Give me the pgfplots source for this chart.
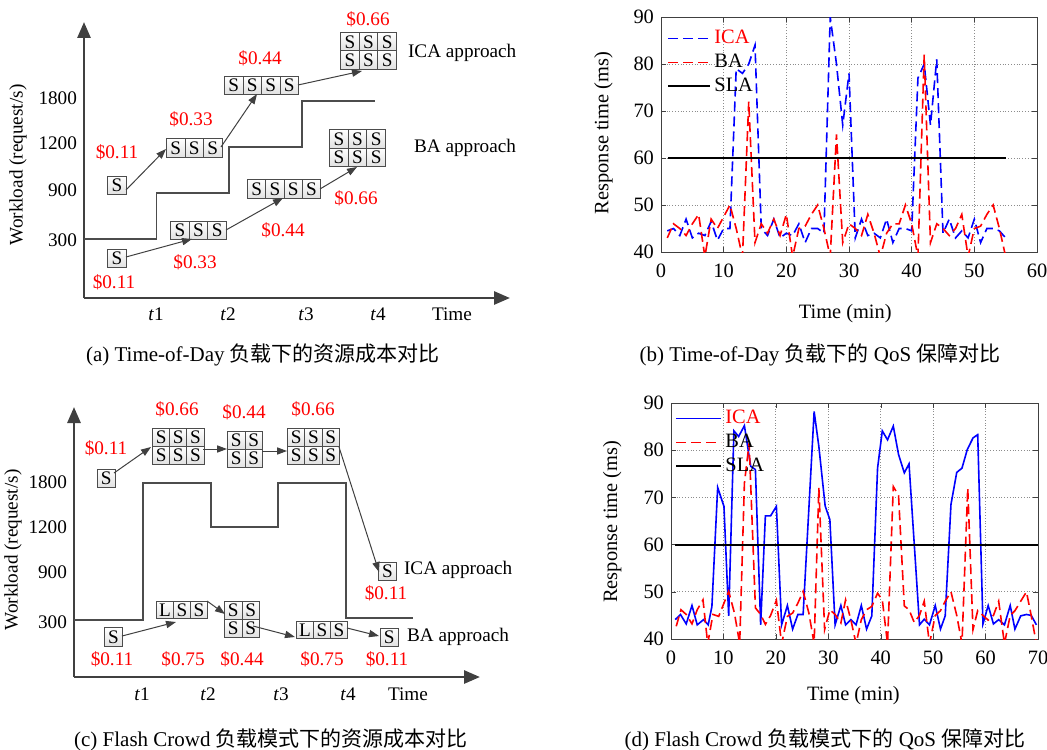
\documentclass[border=0pt]{standalone}
\usepackage{fontspec}
\setmainfont{Liberation Serif}
\newfontfamily\cjk{Noto Sans CJK SC}
\usepackage{pgfplots}
\pgfplotsset{compat=1.18}
\usetikzlibrary{arrows.meta}

\newcommand\fa{\fontsize{9.6}{11}\selectfont}
\newcommand\fb{\fontsize{10.2}{12}\selectfont}
\newcommand\fc{\fontsize{10.5}{12}\selectfont}

\tikzset{
  cell/.style={draw=black!70, line width=0.5pt, top color=white, bottom color=black!12, inner sep=0pt, font=\fa},
  arr/.style={draw=black!75, line width=0.5pt, -{Triangle[length=5pt,width=3.6pt]}},
  cost/.style={text=red, font=\fa},
  px/.style={x=0.5pt, y=-0.5pt},
}
\newcommand{\cellrow}[5]{%
  \foreach \L [count=\i from 0] in {#5} {%
    \node[cell, minimum width={#3*0.5pt}, minimum height={#4*0.5pt}, anchor=north west] at ({#1+\i*#3},#2) {\L};
  }%
}

\pgfplotsset{
  schem/.style={scale only axis, axis x line*=bottom, axis y line*=left,
    x axis line style={line width=1.4pt, draw=black!75, -{Triangle[length=8pt,width=6.5pt]}},
    y axis line style={line width=1.4pt, draw=black!75, -{Triangle[length=8pt,width=6.5pt]}},
    major tick length=0pt, tick label style={font=\fa}, clip=false},
  qos/.style={scale only axis, xmin=0, ymin=40, ymax=90, ytick={40,50,...,90},
    grid=major, grid style={densely dotted, black!45, line width=0.4pt},
    tick align=inside, major tick length=2.5pt,
    axis line style={black!75, line width=0.5pt}, tick style={black!75},
    /pgf/number format/assume math mode=true,
    tick label style={font=\fb}, label style={font=\fb},
    xticklabel style={yshift=-2.5pt},
    legend cell align=left,
    legend style={draw=none, fill=none, font=\fb, inner sep=0pt, row sep=0pt,
      nodes={inner sep=1.5pt, text height=7pt, text depth=2pt}}},
}

\begin{document}
\begin{tikzpicture}
\useasboundingbox (0,0) rectangle (523.5pt,-374.5pt);

%% ---------------- (a) ----------------
\begin{axis}[schem, at={(42pt,-149pt)}, anchor=south west, width=213pt, height=138pt,
  xmin=0, xmax=426, ymin=0, ymax=276,
  xticklabel style={yshift=-1.5pt},
  xtick={72,144,222,294,368},
  xticklabels={{\textit{t}1},{\textit{t}2},{\textit{t}3},{\textit{t}4},Time},
  ytick={58,108,155,200}, yticklabels={300,900,1200,1800}]
\addplot[draw=black!70, line width=0.7pt] coordinates {(0,59)(72.7,59)(72.7,105)(145,105)(145,151)(218,151)(218,197)(291,197)};
\node[rotate=90, font=\fa] at (axis cs:-66,133) {Workload (request/s)};
\end{axis}

%% ---------------- (c) ----------------
\begin{axis}[schem, at={(37pt,-338.5pt)}, anchor=south west, width=203pt, height=135pt,
  xmin=0, xmax=406, ymin=0, ymax=270,
  xticklabel style={yshift=-2pt},
  xtick={68,134,207,274,334},
  xticklabels={{\textit{t}1},{\textit{t}2},{\textit{t}3},{\textit{t}4},Time},
  ytick={55,105,150,195}, yticklabels={300,900,1200,1800}]
\addplot[draw=black!70, line width=0.7pt] coordinates {(0,57)(69,57)(69,194)(137,194)(137,150)(204,150)(204,194)(272,194)(272,59)(339,59)};
\node[rotate=90, font=\fa] at (axis cs:-61,127) {Workload (request/s)};
\end{axis}

%% ---------------- (b) ----------------
\begin{axis}[qos, at={(330.5pt,-126pt)}, anchor=south west, width=188pt, height=117.5pt,
  xmax=60, xtick={0,10,...,60},
  xlabel={Time (min)}, ylabel={Response time (ms)},
  xlabel style={at={(axis description cs:0.49,-0.26)}, anchor=center},
  ylabel style={at={(axis description cs:-0.153,0.506)}, anchor=center},
  legend style={at={(axis description cs:0.016,0.962)}, anchor=north west},
  legend image code/.code={\draw[#1] (0pt,0pt) -- (21pt,0pt);}]
\addplot[blue, line width=0.8pt, dash pattern=on 5pt off 2.5pt] coordinates {
(1,44.5)(2,45)(3,43.5)(4,47)(5,43)(6,44)(7,43.5)(8,46.5)(9,42.5)(10,45)(11,45)
(12,79)(13,78)(14,80)(15,84)(16,45)(17,43.5)(18,47)(19,43)(20,44)(21,43.5)(22,46)
(23,42)(24,45)(25,45)(26,44)(27,90)(28,80)(29,67)(30,78)(31,43)(32,47)(33,43.5)
(34,44)(35,43)(36,47)(37,42)(38,45)(39,45)(40,44.5)(41,77)(42,80)(43,67)(44,81)
(45,44)(46,47)(47,43)(48,44.5)(49,43)(50,47)(51,42)(52,45)(53,45)(54,44.5)(55,43)};
\addlegendentry{\textcolor{red}{ICA}}
\addplot[red, line width=0.8pt, dash pattern=on 5pt off 2.5pt] coordinates {
(1,43)(2,46)(3,45)(4,43.5)(5,46)(6,48)(7,39)(8,47)(9,45)(10,47.5)(11,50)(12,45)
(13,39)(14,72)(15,42)(16,46)(17,44)(18,47)(19,43.5)(20,48)(21,39)(22,45)(23,45.5)
(24,48)(25,50)(26,45)(27,39)(28,65)(29,42)(30,46)(31,45)(32,43.5)(33,48)(34,44)
(35,39)(36,44)(37,46)(38,46)(39,50)(40,46)(41,39)(42,82)(43,42)(44,46)(45,45)
(46,43.5)(47,45)(48,48)(49,39)(50,45)(51,45.5)(52,48)(53,50)(54,45)(55,39)};
\addlegendentry{BA}
\addplot[black, line width=1pt] coordinates {(1.1,60)(55,60)};
\addlegendentry{SLA}
\end{axis}

%% ---------------- (d) ----------------
\begin{axis}[qos, at={(335.5pt,-319.5pt)}, anchor=south west, width=183.5pt, height=118pt,
  xmax=70, xtick={0,10,...,70},
  xlabel={Time (min)}, ylabel={Response time (ms)},
  xlabel style={at={(axis description cs:0.497,-0.24)}, anchor=center},
  ylabel style={at={(axis description cs:-0.16,0.497)}, anchor=center},
  legend style={at={(axis description cs:0.011,0.987)}, anchor=north west},
  legend image code/.code={\draw[#1] (0pt,0pt) -- (22.5pt,0pt);}]
\addplot[blue, line width=0.8pt] coordinates {
(0.8,44.1)(1.8,45.2)(2.9,43.2)(4.0,47.1)(5.0,43.0)(6.2,44.1)(7.1,43.0)(7.8,46.9)
(8.9,72.1)(10.1,68.1)(11.0,44.9)(12.0,84.1)(12.9,82.9)(14.0,85.2)(15.2,76.6)(16.1,75.9)
(17.1,43.0)(18.0,66.1)(19.0,66.1)(20.1,68.1)(21.1,43.0)(22.2,47.1)(23.2,42.1)(24.2,45.2)
(25.2,45.2)(27.3,88.2)(28.2,80.8)(29.4,68.2)(30.3,65.3)(31.3,43.0)(32.4,47.1)(33.3,43.0)
(34.3,44.1)(35.3,43.0)(36.3,47.1)(37.3,42.1)(38.3,44.9)(39.4,76.2)(40.3,84.1)(41.3,82.2)
(42.4,85.1)(43.4,79.1)(44.5,75.2)(45.4,77.1)(47.4,43.0)(48.3,44.2)(49.3,43.0)(50.4,47.1)
(51.4,42.1)(52.3,44.9)(53.4,68.5)(54.5,75.3)(55.5,76.2)(56.5,80.1)(57.6,82.6)(58.5,83.3)
(59.5,43.2)(60.5,47.1)(61.5,43.2)(62.5,44.1)(63.6,43.0)(64.7,47.1)(65.6,42.1)(66.7,44.9)
(67.8,45.2)(68.7,45.0)(69.7,43.0)};
\addlegendentry{\textcolor{red}{ICA}}
\addplot[red, line width=0.8pt, dash pattern=on 5pt off 2.5pt] coordinates {
(1.0,42.7)(1.9,46.2)(2.9,45.2)(4.0,43.2)(5.0,46.2)(6.1,48.3)(7.0,39)(8.0,45.2)(9.1,44.8)
(10.1,47.6)(11.0,50.1)(12.1,45.5)(13.1,39)(14.0,73)(14.9,81.5)(16.1,46.6)(17.1,45.2)
(18.0,43.1)(19.0,45)(20.1,48.2)(21.1,39)(22.2,44.8)(23.2,45.5)(24.2,47.6)(25.2,50.1)
(26.3,45.5)(27.3,39)(28.2,72)(29.3,42)(30.3,46.2)(31.3,45.2)(32.4,43.4)(33.3,48.3)
(34.3,44.1)(35.3,39)(36.3,44.1)(37.3,46.2)(38.3,46.9)(39.4,49.7)(40.3,48.3)(41.3,39)
(42.4,72.3)(43.4,70.4)(44.5,47)(45.4,46.2)(46.4,43.5)(47.4,45)(48.3,48)(49.3,39)
(50.4,45)(51.4,46)(52.3,48)(53.4,50)(54.5,45)(55.5,39)(56.6,72)(57.6,42)(58.5,46)
(59.5,45)(60.5,44)(61.5,45)(62.5,48)(63.6,39)(64.7,45)(65.6,46)(66.7,48)(67.8,50)
(68.7,45)(69.7,39)};
\addlegendentry{BA}
\addplot[black, line width=1pt] coordinates {(0.8,60)(70,60)};
\addlegendentry{SLA}
\end{axis}

\begin{scope}[px]
% (a) ICA
\cellrow{107}{176}{19}{18}{S}
\cellrow{166}{138}{18.5}{19}{S,S,S}
\cellrow{224}{76}{18.5}{18}{S,S,S,S}
\cellrow{340}{32}{18.7}{18.5}{S,S,S}
\cellrow{340}{50.5}{18.7}{18.5}{S,S,S}
\draw[arr] (126,190) -- (166,149);
\draw[arr] (221,147) -- (257,94);
\draw[arr] (298,85) -- (362,71);
\node[anchor=west, font=\fa] at (401,53) {ICA approach};
\node[cost] at (117,152) {\$0.11};
\node[cost] at (191,119) {\$0.33};
\node[cost] at (260,58) {\$0.44};
\node[cost] at (368,19) {\$0.66};
% (a) BA
\cellrow{107}{249}{19}{18}{S}
\cellrow{170}{221}{18.7}{18}{S,S,S}
\cellrow{247}{179}{18.3}{19}{S,S,S,S}
\cellrow{329}{129}{18.7}{18.5}{S,S,S}
\cellrow{329}{147.5}{18.7}{18.5}{S,S,S}
\draw[arr] (126,257) -- (192,239);
\draw[arr] (226,230) -- (283,198);
\draw[arr] (320,189) -- (357,167);
\node[anchor=west, font=\fa] at (407,148) {BA approach};
\node[cost] at (114,282) {\$0.11};
\node[cost] at (195,262) {\$0.33};
\node[cost] at (283,230) {\$0.44};
\node[cost] at (356,198) {\$0.66};
% (c) ICA
\cellrow{97}{469}{17.5}{18}{S}
\cellrow{152}{428}{17.2}{18}{S,S,S}
\cellrow{152}{446}{17.2}{18}{S,S,S}
\cellrow{227}{431}{17.5}{18}{S,S}
\cellrow{227}{449}{17.5}{18}{S,S}
\cellrow{287}{428}{17.3}{18}{S,S,S}
\cellrow{287}{446}{17.3}{18}{S,S,S}
\cellrow{378}{562}{18}{18}{S}
\draw[arr] (114,473) -- (151,447);
\draw[arr] (203,449) -- (227,449);
\draw[arr] (262,451) -- (287,451);
\draw[arr] (339,447) -- (379,572);
\node[anchor=west, font=\fa] at (397,570) {ICA approach};
\node[cost] at (106,448) {\$0.11};
\node[cost] at (177,409) {\$0.66};
\node[cost] at (244,412) {\$0.44};
\node[cost] at (313,409) {\$0.66};
\node[cost] at (386,593) {\$0.11};
% (c) BA
\cellrow{104}{627}{18}{19}{S}
\cellrow{156}{601}{17}{17}{L,S,S}
\cellrow{224}{601}{17.5}{18}{S,S}
\cellrow{224}{619}{17.5}{18}{S,S}
\cellrow{296}{621}{17}{17}{L,S,S}
\cellrow{380}{628}{17.5}{18}{S}
\draw[arr] (122,636) -- (176,622);
\draw[arr] (207,601) -- (225,614);
\draw[arr] (253,626) -- (295,637);
\draw[arr] (347,628) -- (379,636);
\node[anchor=west, font=\fa] at (400,637) {BA approach};
\node[cost] at (112,659) {\$0.11};
\node[cost] at (183,659) {\$0.75};
\node[cost] at (242,659) {\$0.44};
\node[cost] at (322,659) {\$0.75};
\node[cost] at (387,659) {\$0.11};
%% captions
\node[font=\fc] at (263,355) {(a) Time-of-Day {\cjk 负载下的资源成本对比}};
\node[font=\fc] at (820,355) {(b) Time-of-Day {\cjk 负载下的} QoS {\cjk 保障对比}};
\node[font=\fc] at (271,740) {(c) Flash Crowd {\cjk 负载模式下的资源成本对比}};
\node[font=\fc] at (825,740) {(d) Flash Crowd {\cjk 负载模式下的} QoS {\cjk 保障对比}};
\end{scope}
\end{tikzpicture}
\end{document}
